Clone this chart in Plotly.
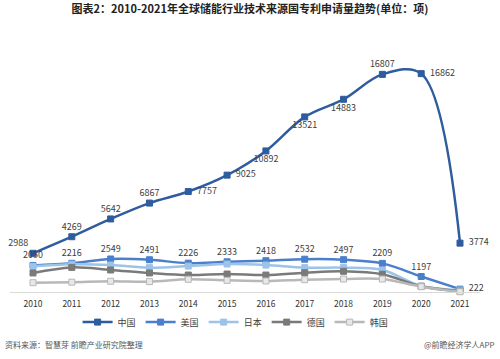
import plotly.graph_objects as go

years = list(range(2010, 2022))
china = [2988, 4269, 5642, 6867, 7757, 9025, 10892, 13521, 14883, 16807, 16862, 3774]
usa = [2050, 2216, 2549, 2491, 2226, 2333, 2418, 2532, 2497, 2209, 1197, 222]
japan = [1980, 2140, 2085, 1880, 2000, 2160, 2080, 1880, 1880, 1700, 460, 150]
germany = [1470, 1900, 1700, 1470, 1310, 1390, 1310, 1490, 1600, 1370, 440, 70]
korea = [720, 760, 830, 800, 980, 900, 850, 950, 1000, 1000, 410, 20]

china_pos = ["top left", "top center", "top center", "top center", "middle right", "middle right",
             "bottom center", "bottom center", "bottom center", "top center", "middle right", "middle right"]
usa_pos = ["top center"] * 11 + ["middle right"]

FONT = "Noto Sans CJK SC"
fig = go.Figure()

def add(name, vals, color, msym="square", mfill=None, tpos=None):
    kw = {}
    if tpos:
        kw = dict(
            text=[str(v) for v in vals],
            textposition=tpos,
            texttemplate=[("  %{text}" if p == "middle right" else "%{text}") for p in tpos],
            textfont=dict(size=9, color="#404040", family=FONT),
        )
    fig.add_trace(go.Scatter(
        x=years, y=vals, name=name,
        mode="lines+markers+text" if tpos else "lines+markers",
        line=dict(color=color, width=2.5, shape="spline", smoothing=1),
        marker=dict(symbol=msym, size=6, color=mfill or color, line=dict(color=color, width=1)),
        cliponaxis=False, **kw,
    ))

add("中国", china, "#2E5C9E", tpos=china_pos)
add("美国", usa, "#4A7FCC", tpos=usa_pos)
add("日本", japan, "#9CC3E8")
add("德国", germany, "#7A7A7A")
add("韩国", korea, "#B8B8B8", mfill="#E8E8E8")

fig.update_layout(
    width=500, height=359,
    margin=dict(l=10, r=20, t=40, b=67, autoexpand=False),
    paper_bgcolor="white", plot_bgcolor="white",
    font=dict(family=FONT, size=9, color="#404040"),
    title=dict(text="<b>图表2：2010-2021年全球储能行业技术来源国专利申请量趋势(单位：项)</b>",
               x=0.5, xanchor="center", y=0.985, yanchor="top",
               font=dict(size=11, color="#222222", family=FONT)),
    xaxis=dict(range=[2009.4075, 2021.515], tickmode="array", tickvals=years,
               ticktext=[str(y) for y in years], showgrid=False, zeroline=False,
               showline=True, linecolor="#D9D9D9", linewidth=1, ticks="",
               ticklabelstandoff=4, automargin=False,
               tickfont=dict(size=8.5, color="#333333")),
    yaxis=dict(range=[0, 19460], visible=False, showgrid=False, zeroline=False, automargin=False),
    legend=dict(orientation="h", x=0.48, xanchor="center", y=-0.062, yanchor="top",
                bgcolor="rgba(0,0,0,0)",
                font=dict(size=9, color="#404040"), itemwidth=30, tracegroupgap=0),
    showlegend=True,
)

fig.add_annotation(text="资料来源：智慧芽 前瞻产业研究院整理", xref="paper", yref="paper",
                   x=-0.015, xanchor="left", y=-0.18, yanchor="top", showarrow=False,
                   font=dict(size=8, color="#555555", family=FONT))
fig.add_annotation(text="@前瞻经济学人APP", xref="paper", yref="paper",
                   x=1.036, xanchor="right", y=-0.18, yanchor="top", showarrow=False,
                   font=dict(size=8, color="#555555", family=FONT))

fig.write_html("out.html", config={"displayModeBar": False},
               post_script="document.body.style.margin='0';")
